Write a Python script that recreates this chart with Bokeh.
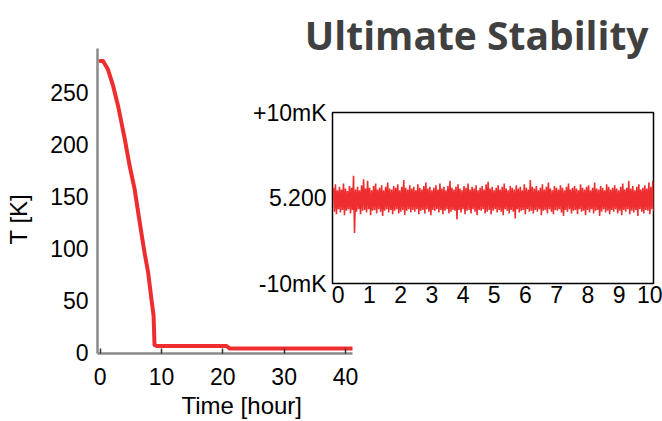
import numpy as np
from bokeh.plotting import figure
from bokeh.models import Title, FixedTicker, Range1d
from bokeh.layouts import row, column
from bokeh.embed import file_html
from bokeh.resources import INLINE

# ---------------- data: cooldown curve ----------------
cool_time = [0, 0.45, 1.25, 2.1, 2.9, 3.45, 4.0, 4.8, 5.6, 6.2, 6.7, 7.3, 7.8,
             8.35, 8.7, 8.85, 9.2, 15, 20.6, 21.1, 30, 41.1]
cool_temp = [280, 280, 272, 256, 237, 221, 205, 179, 157, 134, 115, 93, 77,
             51, 35, 7, 6, 6, 6, 3.5, 3.5, 3.5]
main_xticks = [0, 10, 20, 30, 40]
main_yticks = [0, 50, 100, 150, 200, 250]

# ---------------- data: stability inset (mK around 5.200 K) ----------------
noise_time_start = -0.15
noise_time_end = 10.08
noise_hi = [
    1.2, 1.6, 0.9, 1.3, 1.0, 1.7, 1.1, 0.8, 1.4, 1.2, 2.6, 1.0, 1.3, 0.9, 1.5, 2.2, 1.1, 2.0, 1.2, 0.9,
    1.4, 1.7, 1.0, 1.2, 1.5, 0.9, 1.3, 1.8, 1.1, 1.0, 1.4, 1.2, 1.6, 0.9, 1.3, 2.1, 1.2, 1.0, 1.5, 1.1,
    1.3, 0.9, 1.6, 1.2, 1.0, 1.4, 1.8, 1.1, 1.3, 0.9, 1.2, 1.5, 1.0, 1.7, 1.1, 1.3, 0.9, 1.4, 2.0, 1.2,
    1.0, 1.3, 1.6, 1.1, 0.9, 1.4, 1.2, 1.7, 1.0, 1.3, 1.1, 1.5, 0.9, 1.2, 1.4, 1.0, 1.6, 1.9, 1.1, 1.3,
    0.9, 1.2, 1.5, 1.0, 1.3, 1.7, 1.1, 0.9, 1.4, 1.2, 1.0, 1.5, 1.1, 1.3, 0.9, 1.6, 1.2, 1.0, 2.1, 1.3,
    1.1, 1.4, 0.9, 1.2, 1.6, 1.0, 1.3, 1.8, 1.1, 0.9, 1.4, 1.2, 1.0, 1.5, 1.2, 0.9, 1.3, 1.7, 1.0, 1.2,
    1.4, 1.1, 0.9, 1.6, 1.2, 1.0, 1.3, 1.5, 0.9, 1.2, 1.8, 1.1, 1.0, 1.4, 1.2, 0.9, 1.6, 1.3, 1.0, 1.2,
    1.5, 1.1, 0.9, 1.3, 1.7, 1.0, 1.2, 2.0, 1.1, 1.4, 0.9, 1.3, 1.6, 1.0, 1.2, 1.5, 1.1, 1.8, 1.3, 2.0,
]
noise_lo = [
    -1.6, -1.9, -1.3, -1.7, -1.4, -2.0, -1.5, -1.3, -1.8, -1.4, -4.1, -1.6, -1.3, -1.9, -1.5, -1.4, -1.7, -1.3, -2.0, -1.5,
    -1.4, -1.8, -1.3, -1.6, -2.1, -1.5, -1.3, -1.7, -1.4, -1.9, -1.5, -1.3, -1.8, -1.6, -1.4, -2.0, -1.5, -1.3, -1.7, -1.4,
    -1.6, -1.3, -1.9, -1.5, -1.4, -1.8, -1.3, -1.6, -2.0, -1.4, -1.5, -1.3, -1.7, -1.4, -1.9, -1.5, -1.3, -1.8, -1.6, -1.4,
    -1.5, -2.5, -1.4, -1.7, -1.3, -1.9, -1.5, -1.4, -1.8, -1.3, -1.6, -2.0, -1.4, -1.5, -1.3, -1.8, -1.6, -1.4, -1.9, -1.5,
    -1.3, -1.7, -1.4, -1.6, -2.0, -1.3, -1.5, -1.8, -1.4, -1.6, -2.4, -1.3, -1.7, -1.5, -1.4, -1.9, -1.3, -1.6, -1.5, -1.8,
    -1.4, -1.6, -1.3, -2.0, -1.5, -1.4, -1.8, -1.3, -1.6, -1.9, -1.4, -1.5, -1.3, -1.7, -2.1, -1.4, -1.6, -1.3, -1.8, -1.5,
    -1.4, -1.9, -1.3, -1.6, -1.5, -2.0, -1.4, -1.7, -1.3, -1.8, -1.5, -1.4, -2.1, -1.6, -1.3, -1.7, -1.5, -1.9, -1.4, -1.6,
    -1.3, -1.8, -1.5, -2.0, -1.4, -1.6, -1.3, -1.9, -1.5, -1.7, -1.4, -2.1, -1.3, -1.6, -1.8, -1.4, -1.5, -1.9, -1.3, -1.6,
]
inset_xticks = [0, 1, 2, 3, 4, 5, 6, 7, 8, 9, 10]
inset_yticks = [-10, 0, 10]
inset_ylabels = ["-10mK", "5.200", "+10mK"]
title_text = "Ultimate Stability"

RED = "#ee2e2e"
FONT = "Liberation Sans"
TICK_SIZE = "23px"
LABEL_SIZE = "24px"

# ---------------- main cooldown figure ----------------
p = figure(width=376, height=421, x_range=Range1d(-0.45, 41.15), y_range=Range1d(-1.25, 292),
           output_backend="svg", toolbar_location=None,
           min_border_left=111, min_border_right=10, min_border_top=48, min_border_bottom=68)
p.outline_line_color = None
p.grid.visible = False
p.line(cool_time, cool_temp, color=RED, line_width=4, line_join="round", line_cap="round")

p.xaxis.ticker = FixedTicker(ticks=main_xticks)
p.yaxis.ticker = FixedTicker(ticks=main_yticks)
for ax in (p.xaxis[0], p.yaxis[0]):
    ax.axis_line_color = "#8a8a8a"
    ax.axis_line_width = 2.5
    ax.minor_tick_line_color = None
    ax.major_label_text_font = FONT
    ax.major_label_text_font_size = TICK_SIZE
    ax.major_label_text_color = "black"
p.xaxis.major_tick_in = 5
p.xaxis.major_tick_out = 0
p.xaxis.major_tick_line_color = "#333333"
p.xaxis.major_tick_line_width = 1.5
p.xaxis.major_label_standoff = 14
p.yaxis.major_tick_in = 0
p.yaxis.major_tick_out = 0
p.yaxis.major_label_standoff = 9

p.add_layout(Title(text="Time [hour]", align="left", offset=84, standoff=4,
                   text_font=FONT, text_font_size=LABEL_SIZE, text_font_style="normal",
                   text_color="black"), "below")
p.add_layout(Title(text="T [K]", align="left", offset=109, standoff=31,
                   text_font=FONT, text_font_size=LABEL_SIZE, text_font_style="normal",
                   text_color="black"), "left")

# ---------------- inset stability figure ----------------
q = figure(width=420, height=310, x_range=Range1d(-0.18, 10.1), y_range=Range1d(-10, 10),
           output_backend="svg", toolbar_location=None,
           min_border_left=90, min_border_right=9, min_border_top=112, min_border_bottom=27)
q.outline_line_color = "black"
q.outline_line_width = 1.5
q.grid.visible = False
# spacer between headline and inset frame (closest to the frame)
q.add_layout(Title(text=" ", text_font_size="10px", standoff=37), "above")
q.add_layout(Title(text=title_text, align="right", offset=5, standoff=4,
                   text_font="Open Sans", text_font_size="39px", text_font_style="bold",
                   text_color="#404040"), "above")

n = len(noise_hi)
t_hi = np.linspace(noise_time_start, noise_time_end, n)
dt = t_hi[1] - t_hi[0]
trace_t = np.empty(2 * n)
trace_v = np.empty(2 * n)
trace_t[0::2] = t_hi
trace_t[1::2] = t_hi + dt / 2
trace_v[0::2] = noise_hi
trace_v[1::2] = noise_lo
q.line(trace_t, trace_v, color=RED, line_width=1.6)

q.xaxis.ticker = FixedTicker(ticks=inset_xticks)
q.yaxis.ticker = FixedTicker(ticks=inset_yticks)
q.yaxis.major_label_overrides = {t: s for t, s in zip(inset_yticks, inset_ylabels)}
for ax in (q.xaxis[0], q.yaxis[0]):
    ax.axis_line_color = None
    ax.major_tick_in = 0
    ax.major_tick_out = 0
    ax.minor_tick_line_color = None
    ax.major_label_text_font = FONT
    ax.major_label_text_font_size = TICK_SIZE
    ax.major_label_text_color = "black"
q.xaxis.major_label_standoff = 2
q.yaxis.major_label_standoff = 6

left_box = column(p, margin=(0, 0, 0, -14))
right_box = column(q, margin=(0, 0, 0, -120))
layout = row(left_box, right_box)
open("out.html", "w").write(file_html(layout, INLINE))
